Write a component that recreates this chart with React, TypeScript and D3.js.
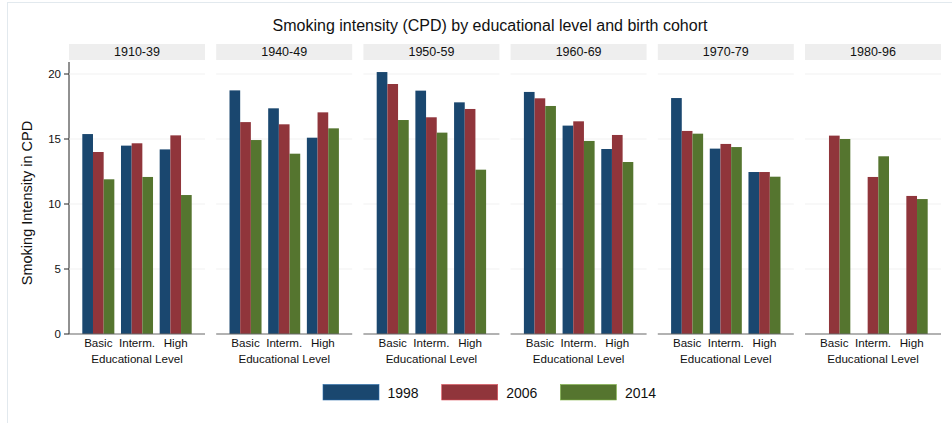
import React from "react";
import * as d3 from "d3";

const title = "Smoking intensity (CPD) by educational level and birth cohort";
const cohorts = ["1910-39", "1940-49", "1950-59", "1960-69", "1970-79", "1980-96"];
const levels = ["Basic", "Interm.", "High"];
const years = ["1998", "2006", "2014"];
const yTicks = [0, 5, 10, 15, 20];

// values[cohort][level] per year
const v1998: (number | null)[][] = [
  [15.38, 14.49, 14.2],
  [18.74, 17.36, 15.1],
  [20.15, 18.72, 17.82],
  [18.62, 16.03, 14.23],
  [18.15, 14.26, 12.46],
  [null, null, null],
];
const v2006: (number | null)[][] = [
  [14.0, 14.67, 15.28],
  [16.3, 16.13, 17.05],
  [19.23, 16.67, 17.31],
  [18.13, 16.36, 15.31],
  [15.62, 14.62, 12.46],
  [15.26, 12.08, 10.62],
];
const v2014: (number | null)[][] = [
  [11.9, 12.08, 10.69],
  [14.92, 13.87, 15.82],
  [16.46, 15.49, 12.64],
  [17.54, 14.85, 13.23],
  [15.41, 14.38, 12.1],
  [15.0, 13.67, 10.38],
];
const seriesValues = [v1998, v2006, v2014];
const colors = ["#1a476f", "#90353b", "#55752f"];

const FONT = "'Liberation Sans', Arial, Helvetica, sans-serif";

export default function App() {
  const W = 952;
  const H = 423;
  const y = d3.scaleLinear().domain([0, 20]).range([334, 74]);
  const xPanel = d3.scaleBand<string>().domain(cohorts).range([69, 941]).paddingInner(0.076).paddingOuter(0);
  const pw = xPanel.bandwidth();
  const xGroup = d3.scaleBand<string>().domain(levels).range([0, pw]).paddingInner(0.172).paddingOuter(0.344);
  const xSeries = d3.scaleBand<string>().domain(years).range([0, xGroup.bandwidth()]).padding(0);
  const plotTop = 62;
  const y0 = y(0);

  return (
    <svg width={W} height={H} style={{ position: "absolute", left: 0, top: 0, display: "block" }} fontFamily={FONT}>
      <rect x={0} y={0} width={W} height={H} fill="#ffffff" />
      <rect x={7.5} y={2.5} width={W + 10} height={H + 10} fill="none" stroke="#e2e9ee" strokeWidth={1} />
      <text x={490} y={31} textAnchor="middle" fontSize={16} fill="#111">{title}</text>

      {/* y axis */}
      <line x1={69} x2={69} y1={plotTop} y2={y0} stroke="#222" strokeWidth={1} />
      {yTicks.map((t) => (
        <g key={t}>
          <line x1={64} x2={69} y1={y(t)} y2={y(t)} stroke="#222" />
          <text x={61} y={y(t) + 4} textAnchor="end" fontSize={11.5} fill="#111">{t}</text>
        </g>
      ))}
      <text transform={`translate(32,${(plotTop + y0) / 2 + 5}) rotate(-90)`} textAnchor="middle" fontSize={14.5} fill="#111">
        Smoking Intensity in CPD
      </text>

      {cohorts.map((c, ci) => {
        const px = xPanel(c)!;
        return (
          <g key={c} transform={`translate(${px},0)`}>
            <rect x={0} y={44} width={pw} height={16} fill="#eeeeee" />
            <text x={pw / 2} y={56} textAnchor="middle" fontSize={12.5} fill="#111">{c}</text>
            {yTicks.filter((t) => t > 0).map((t) => (
              <line key={t} x1={0} x2={pw} y1={y(t)} y2={y(t)} stroke="#f1f1f1" strokeWidth={1} />
            ))}
            {levels.map((l, li) => (
              <g key={l} transform={`translate(${xGroup(l)},0)`}>
                {years.map((yr, si) => {
                  const val = seriesValues[si][ci][li];
                  if (val == null) return null;
                  return (
                    <rect
                      key={yr}
                      x={xSeries(yr)}
                      y={y(val)}
                      width={xSeries.bandwidth()}
                      height={y0 - y(val)}
                      fill={colors[si]}
                    />
                  );
                })}
                <text x={xGroup.bandwidth() / 2} y={347} textAnchor="middle" fontSize={11.6} fill="#111">{l}</text>
              </g>
            ))}
            <line x1={0} x2={pw} y1={y0} y2={y0} stroke="#666" strokeWidth={1.2} />
            <text x={pw / 2} y={363} textAnchor="middle" fontSize={11.6} fill="#111">Educational Level</text>
          </g>
        );
      })}

      {/* legend */}
      {years.map((yr, i) => {
        const lx = 323 + i * 118.7;
        return (
          <g key={yr}>
            <rect x={lx} y={384.5} width={56} height={15.5} fill={colors[i]} stroke={d3.color(colors[i])!.brighter(1.2).formatHex()} strokeWidth={0.6} />
            <text x={lx + 64.5} y={398} fontSize={14} fill="#111">{yr}</text>
          </g>
        );
      })}
    </svg>
  );
}
